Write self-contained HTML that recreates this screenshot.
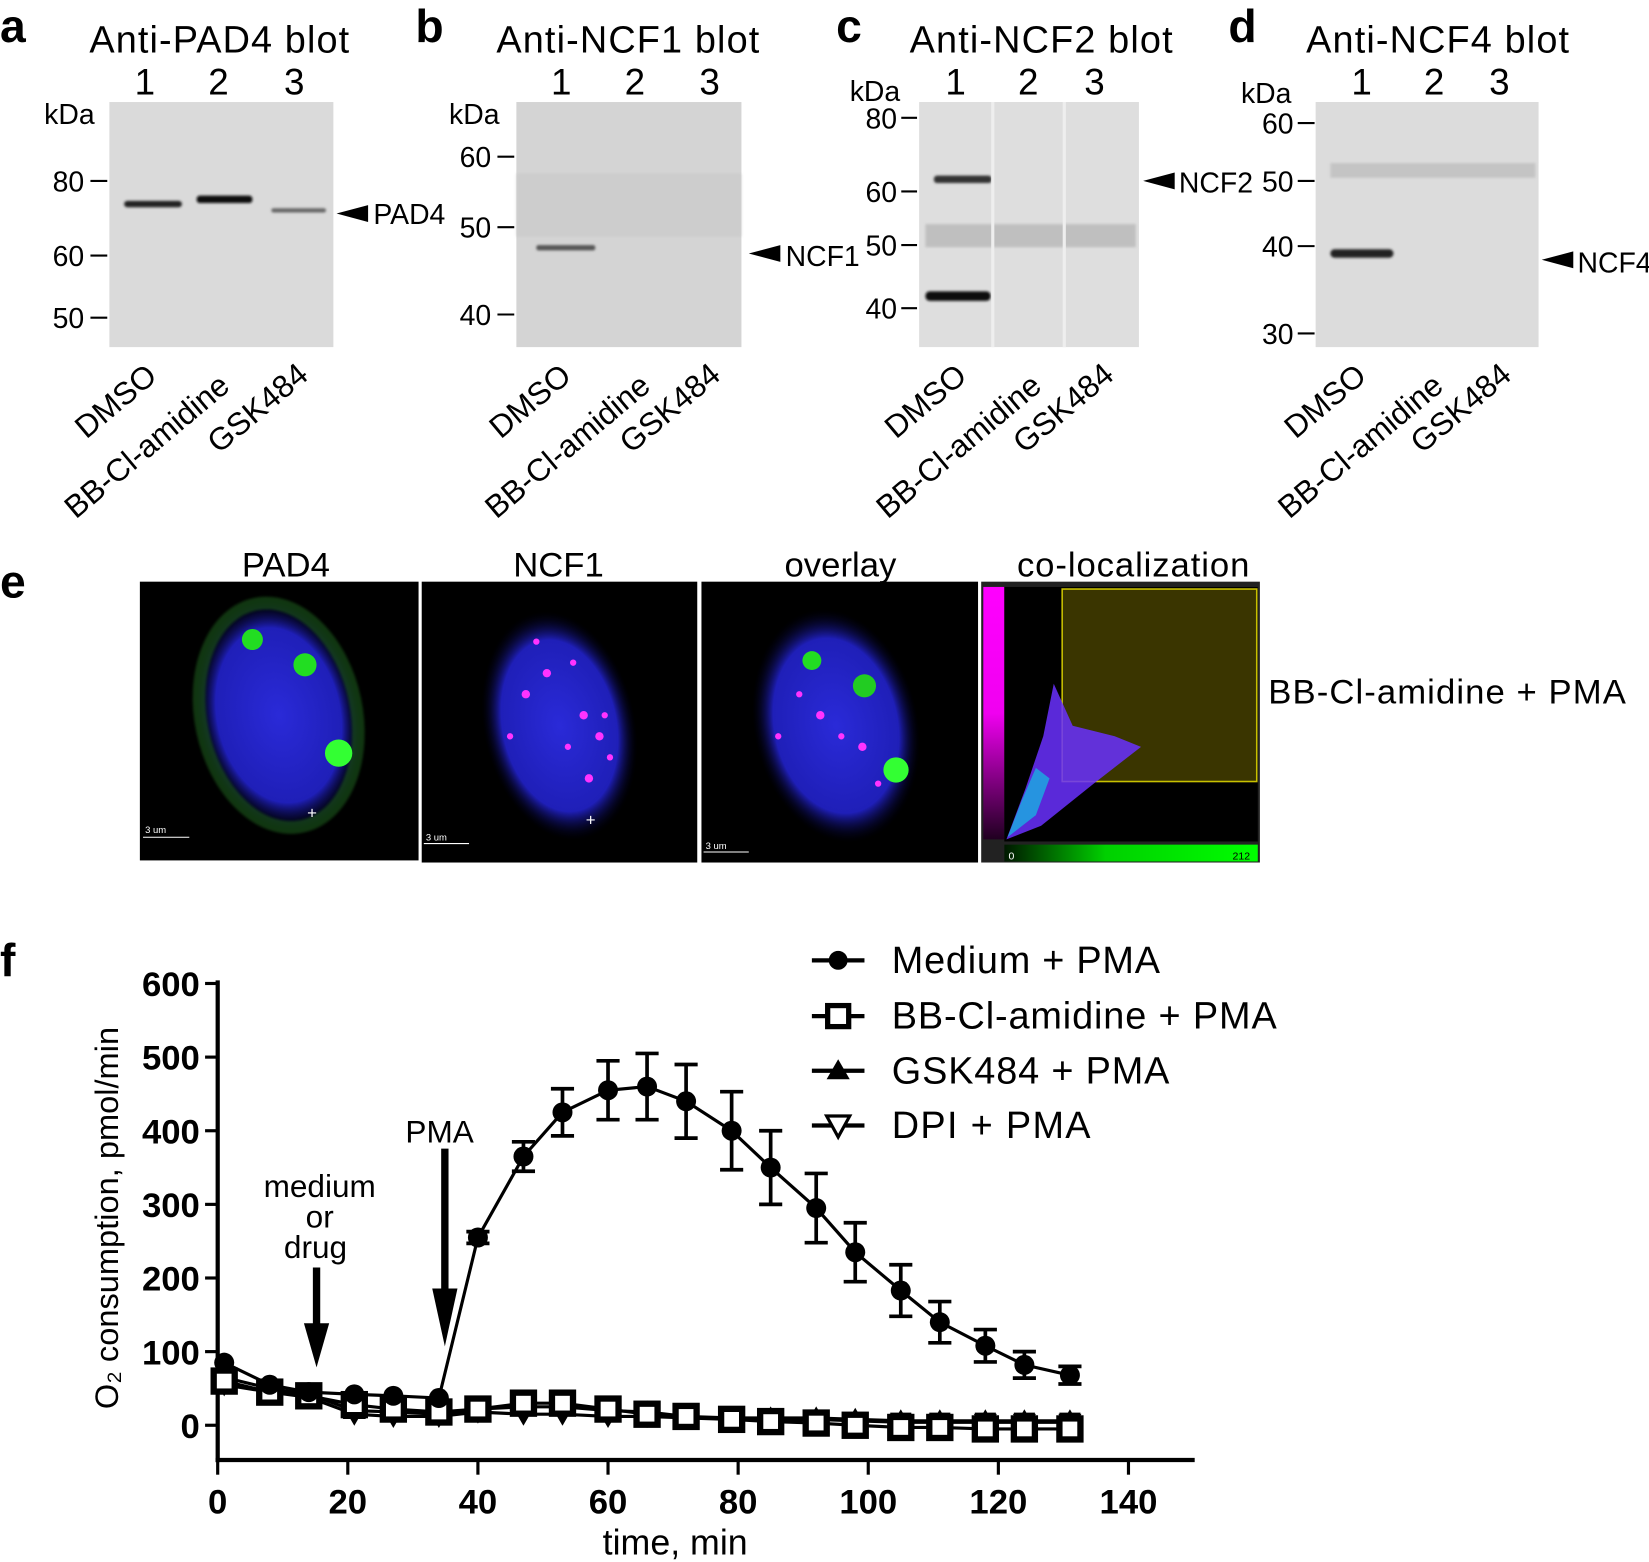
<!DOCTYPE html>
<html><head><meta charset="utf-8"><style>
html,body{margin:0;padding:0;background:#fff}
svg{display:block}
text{font-family:"Liberation Sans",Arial,sans-serif}
</style></head><body>
<svg id="s" width="1649" height="1562" viewBox="0 0 1568 1485" preserveAspectRatio="none" xmlns="http://www.w3.org/2000/svg">
<defs>
<radialGradient id="blue" cx="50%" cy="50%" r="50%"><stop offset="0" stop-color="#2a2ad8"/><stop offset="0.75" stop-color="#1f1fb8"/><stop offset="1" stop-color="#000020" stop-opacity="0"/></radialGradient>
<linearGradient id="mag" x1="0" y1="0" x2="0" y2="1"><stop offset="0" stop-color="#ff00ff"/><stop offset="0.5" stop-color="#f000f0"/><stop offset="1" stop-color="#200020"/></linearGradient>
<linearGradient id="grn" x1="0" y1="0" x2="1" y2="0"><stop offset="0" stop-color="#001800"/><stop offset="0.4" stop-color="#00d000"/><stop offset="1" stop-color="#00ff00"/></linearGradient>
<filter id="bl"><feGaussianBlur stdDeviation="1.2"/></filter>
</defs>
<g font-size="44" font-weight="bold">
<text x="0" y="40">a</text><text x="395" y="40">b</text><text x="795" y="40">c</text><text x="1168" y="40">d</text>
</g>
<g font-size="36" fill="#000">
<text x="85" y="50" textLength="247">Anti-PAD4 blot</text>
<text x="472" y="50" textLength="250">Anti-NCF1 blot</text>
<text x="865" y="50" textLength="250">Anti-NCF2 blot</text>
<text x="1242" y="50" textLength="250">Anti-NCF4 blot</text>
</g>
<g font-size="35">
<text x="128" y="90">1</text><text x="198" y="90">2</text><text x="270" y="90">3</text>
<text x="524" y="90">1</text><text x="594" y="90">2</text><text x="665" y="90">3</text>
<text x="899" y="90">1</text><text x="968" y="90">2</text><text x="1031" y="90">3</text>
<text x="1285" y="90">1</text><text x="1354" y="90">2</text><text x="1416" y="90">3</text>
</g>
<rect x="104" y="97" width="213" height="233" fill="#dadada"/>
<rect x="491" y="97" width="214" height="233" fill="#d4d4d4"/>
<rect x="874" y="97" width="209" height="233" fill="#dedede"/>
<rect x="1251" y="97" width="212" height="233" fill="#dcdcdc"/>
<g filter="url(#bl)">
<rect x="118" y="191" width="55" height="6" fill="#222" rx="3"/>
<rect x="187" y="186" width="53" height="7" fill="#111" rx="3"/>
<rect x="258" y="198" width="52" height="4" fill="#666" rx="2"/>
<rect x="491" y="165" width="214" height="60" fill="#c8c8c8" opacity="0.6"/>
<rect x="510" y="233" width="56" height="5" fill="#555" rx="2"/>
<rect x="888" y="167" width="55" height="7" fill="#333" rx="3"/>
<rect x="880" y="213" width="200" height="22" fill="#b8b8b8" opacity="0.8"/>
<rect x="880" y="277" width="62" height="9" fill="#111" rx="4"/>
<rect x="1265" y="155" width="195" height="14" fill="#c4c4c4"/>
<rect x="1265" y="237" width="60" height="8" fill="#222" rx="4"/>
</g>
<line x1="944" y1="97" x2="944" y2="330" stroke="#eee" stroke-width="3"/>
<line x1="1012" y1="97" x2="1012" y2="330" stroke="#eee" stroke-width="3"/>
<g font-size="27" fill="#000">
<text x="42" y="118">kDa</text>
<text x="50" y="182">80</text><line x1="86" y1="172" x2="102" y2="172" stroke="#000" stroke-width="2"/>
<text x="50" y="253">60</text><line x1="86" y1="243" x2="102" y2="243" stroke="#000" stroke-width="2"/>
<text x="50" y="312">50</text><line x1="86" y1="302" x2="102" y2="302" stroke="#000" stroke-width="2"/>
<text x="427" y="118">kDa</text>
<text x="437" y="159">60</text><line x1="473" y1="149" x2="489" y2="149" stroke="#000" stroke-width="2"/>
<text x="437" y="226">50</text><line x1="473" y1="216" x2="489" y2="216" stroke="#000" stroke-width="2"/>
<text x="437" y="309">40</text><line x1="473" y1="299" x2="489" y2="299" stroke="#000" stroke-width="2"/>
<text x="808" y="96">kDa</text>
<text x="823" y="122">80</text><line x1="857" y1="112" x2="872" y2="112" stroke="#000" stroke-width="2"/>
<text x="823" y="192">60</text><line x1="857" y1="182" x2="872" y2="182" stroke="#000" stroke-width="2"/>
<text x="823" y="243">50</text><line x1="857" y1="233" x2="872" y2="233" stroke="#000" stroke-width="2"/>
<text x="823" y="303">40</text><line x1="857" y1="293" x2="872" y2="293" stroke="#000" stroke-width="2"/>
<text x="1180" y="98">kDa</text>
<text x="1200" y="127">60</text><line x1="1234" y1="117" x2="1250" y2="117" stroke="#000" stroke-width="2"/>
<text x="1200" y="182">50</text><line x1="1234" y1="172" x2="1250" y2="172" stroke="#000" stroke-width="2"/>
<text x="1200" y="244">40</text><line x1="1234" y1="234" x2="1250" y2="234" stroke="#000" stroke-width="2"/>
<text x="1200" y="327">30</text><line x1="1234" y1="317" x2="1250" y2="317" stroke="#000" stroke-width="2"/>
</g>
<g font-size="27">
<polygon points="320,203 350,195 350,211" fill="#000"/><text x="355" y="213">PAD4</text>
<polygon points="712,241 742,233 742,249" fill="#000"/><text x="747" y="253">NCF1</text>
<polygon points="1087,172 1117,164 1117,180" fill="#000"/><text x="1121" y="183">NCF2</text>
<polygon points="1466,247 1496,239 1496,255" fill="#000"/><text x="1500" y="259">NCF4</text>
</g>
<g font-size="30">
<text transform="translate(82,418) rotate(-40)">DMSO</text>
<text transform="translate(72,494) rotate(-40)">BB-Cl-amidine</text>
<text transform="translate(208,432) rotate(-40)">GSK484</text>
<text transform="translate(476,418) rotate(-40)">DMSO</text>
<text transform="translate(472,494) rotate(-40)">BB-Cl-amidine</text>
<text transform="translate(600,432) rotate(-40)">GSK484</text>
<text transform="translate(852,418) rotate(-40)">DMSO</text>
<text transform="translate(844,494) rotate(-40)">BB-Cl-amidine</text>
<text transform="translate(974,432) rotate(-40)">GSK484</text>
<text transform="translate(1232,418) rotate(-40)">DMSO</text>
<text transform="translate(1226,494) rotate(-40)">BB-Cl-amidine</text>
<text transform="translate(1352,432) rotate(-40)">GSK484</text>
</g>
<text x="0" y="568" font-weight="bold" font-size="44">e</text>
<g font-size="33"><text x="230" y="548">PAD4</text><text x="488" y="548">NCF1</text><text x="746" y="548">overlay</text><text x="967" y="548" textLength="221">co-localization</text></g>
<rect x="133" y="553" width="265" height="265" fill="#000"/>
<rect x="401" y="553" width="262" height="267" fill="#000"/>
<rect x="667" y="553" width="263" height="267" fill="#000"/>
<rect x="933" y="553" width="265" height="267" fill="#222"/>
<ellipse cx="265" cy="680" rx="78" ry="112" fill="url(#blue)" transform="rotate(-12 265 680)"/>
<ellipse cx="265" cy="680" rx="74" ry="108" fill="none" stroke="#1a5a1a" stroke-width="12" opacity="0.6" transform="rotate(-12 265 680)" filter="url(#bl)"/>
<circle cx="240" cy="608" r="10" fill="#22dd22"/><circle cx="290" cy="632" r="11" fill="#22dd22"/><circle cx="322" cy="716" r="13" fill="#33ff33"/>
<ellipse cx="532" cy="690" rx="72" ry="110" fill="url(#blue)" transform="rotate(-12 532 690)"/>
<g fill="#ff33ff"><circle cx="500" cy="660" r="4"/><circle cx="520" cy="640" r="4"/><circle cx="545" cy="630" r="3"/><circle cx="555" cy="680" r="4"/><circle cx="570" cy="700" r="4"/><circle cx="580" cy="720" r="3"/><circle cx="485" cy="700" r="3"/><circle cx="560" cy="740" r="4"/><circle cx="540" cy="710" r="3"/><circle cx="575" cy="680" r="3"/><circle cx="510" cy="610" r="3"/></g>
<ellipse cx="795" cy="690" rx="78" ry="112" fill="url(#blue)" transform="rotate(-12 795 690)"/>
<circle cx="772" cy="628" r="9" fill="#22dd22"/><circle cx="822" cy="652" r="11" fill="#22cc22"/><circle cx="852" cy="732" r="12" fill="#33ff33"/>
<g fill="#ff33ff"><circle cx="760" cy="660" r="3"/><circle cx="780" cy="680" r="4"/><circle cx="800" cy="700" r="3"/><circle cx="820" cy="710" r="4"/><circle cx="740" cy="700" r="3"/><circle cx="835" cy="745" r="3"/></g>
<g fill="#fff" font-size="9"><text x="138" y="792">3 um</text><text x="405" y="799">3 um</text><text x="671" y="807">3 um</text></g>
<line x1="136" y1="796" x2="180" y2="796" stroke="#fff"/><line x1="403" y1="802" x2="446" y2="802" stroke="#fff"/><line x1="669" y1="810" x2="712" y2="810" stroke="#fff"/>
<text x="292" y="778" fill="#fff" font-size="16">+</text><text x="557" y="785" fill="#fff" font-size="16">+</text>
<rect x="935" y="558" width="20" height="240" fill="url(#mag)"/>
<rect x="955" y="558" width="241" height="242" fill="#000"/>
<rect x="1010" y="560" width="185" height="183" fill="#3a3500" stroke="#c8c000" stroke-width="1.5"/>
<polygon points="957,798 975,750 992,700 1002,650 1020,690 1060,700 1085,710 1040,745 990,785" fill="#6a30ff" opacity="0.85"/>
<polygon points="958,796 972,760 985,730 998,740 985,775" fill="#20a0e0" opacity="0.9"/>
<rect x="955" y="803" width="241" height="16" fill="url(#grn)"/>
<text x="959" y="817" fill="#fff" font-size="10">0</text><text x="1172" y="817" fill="#000" font-size="10">212</text>
<text x="1206" y="669" font-size="33" textLength="340">BB-Cl-amidine + PMA</text>
<text x="0" y="928" font-weight="bold" font-size="44">f</text>
<g id="plot"></g>
</svg>
<script>
const NS="http://www.w3.org/2000/svg",g=document.getElementById("plot");
function el(t,a,txt){const e=document.createElementNS(NS,t);for(const k in a)e.setAttribute(k,a[k]);if(txt!=null)e.textContent=txt;g.appendChild(e);return e;}
const X=t=>207+t*6.186,Y=v=>1355-v*0.7;
el("line",{x1:207,y1:932,x2:207,y2:1390,stroke:"#000","stroke-width":4});
el("line",{x1:205,y1:1388,x2:1136,y2:1388,stroke:"#000","stroke-width":4});
for(let v=0;v<=600;v+=100){el("line",{x1:195,y1:Y(v),x2:207,y2:Y(v),stroke:"#000","stroke-width":3});el("text",{x:190,y:Y(v)+12,"text-anchor":"end","font-size":33,"font-weight":"bold"},v);}
for(let t=0;t<=140;t+=20){el("line",{x1:X(t),y1:1388,x2:X(t),y2:1402,stroke:"#000","stroke-width":3});el("text",{x:X(t),y:1439,"text-anchor":"middle","font-size":33,"font-weight":"bold"},t);}
el("text",{x:642,y:1478,"text-anchor":"middle","font-size":34},"time, min");
el("text",{x:0,y:0,transform:"translate(112,1158) rotate(-90)","text-anchor":"middle","font-size":31},"O\u2082 consumption, pmol/min");
const T=[1,8,14,21,27,34,40,47,53,60,66,72,79,85,92,98,105,111,118,124,131];
const med=[85,55,45,42,40,37,255,365,425,455,460,440,400,350,295,235,183,140,108,82,68];
const me=[0,0,0,0,0,0,8,20,32,40,45,50,53,50,47,40,35,28,22,18,12];
const bb=[60,45,40,28,22,18,22,30,30,22,15,12,8,5,3,0,-3,-3,-5,-5,-5];
const gsk=[65,50,42,20,18,15,22,25,25,20,18,12,10,10,10,8,6,6,6,6,6];
const dpi=[55,45,38,15,12,12,18,15,15,12,12,10,8,8,8,6,4,4,4,4,4];
function series(d,err){let p=T.map((t,i)=>X(t)+","+Y(d[i])).join(" ");el("polyline",{points:p,fill:"none",stroke:"#000","stroke-width":3});
 if(err)T.forEach((t,i)=>{if(err[i]){el("line",{x1:X(t),y1:Y(d[i]-err[i]),x2:X(t),y2:Y(d[i]+err[i]),stroke:"#000","stroke-width":3.5});[d[i]-err[i],d[i]+err[i]].forEach(v=>el("line",{x1:X(t)-11,y1:Y(v),x2:X(t)+11,y2:Y(v),stroke:"#000","stroke-width":3.5}));}});}
series(dpi);series(gsk);series(bb);
T.forEach((t,i)=>{if(i>12){el("line",{x1:X(t)-10,y1:Y(15),x2:X(t)+10,y2:Y(15),stroke:"#000","stroke-width":3});el("line",{x1:X(t),y1:Y(15),x2:X(t),y2:Y(-12),stroke:"#000","stroke-width":3});}});
T.forEach((t,i)=>{el("polygon",{points:`${X(t)-11},${Y(dpi[i])-8} ${X(t)+11},${Y(dpi[i])-8} ${X(t)},${Y(dpi[i])+11}`});
 el("polygon",{points:`${X(t)-11},${Y(gsk[i])+8} ${X(t)+11},${Y(gsk[i])+8} ${X(t)},${Y(gsk[i])-11}`});
 el("rect",{x:X(t)-10,y:Y(bb[i])-10,width:20,height:20,fill:"#fff",stroke:"#000","stroke-width":6});});
series(med,me);
T.forEach((t,i)=>el("circle",{cx:X(t),cy:Y(med[i]),r:9.5}));
el("line",{x1:301,y1:1205,x2:301,y2:1265,stroke:"#000","stroke-width":7});el("polygon",{points:"289,1258 313,1258 301,1300"});
el("line",{x1:423,y1:1092,x2:423,y2:1230,stroke:"#000","stroke-width":7});el("polygon",{points:"411,1225 435,1225 423,1280"});
el("text",{x:304,y:1138,"text-anchor":"middle","font-size":30},"medium");
el("text",{x:304,y:1167,"text-anchor":"middle","font-size":30},"or");
el("text",{x:300,y:1196,"text-anchor":"middle","font-size":30},"drug");
el("text",{x:418,y:1086,"text-anchor":"middle","font-size":30},"PMA");
const L=[["Medium + PMA",913,"c",255],["BB-Cl-amidine + PMA",966,"s",366],["GSK484 + PMA",1018,"u",264],["DPI + PMA",1070,"d",189]];
L.forEach(([s,y,m,w])=>{el("line",{x1:772,y1:y,x2:822,y2:y,stroke:"#000","stroke-width":4});
 if(m=="c")el("circle",{cx:797,cy:y,r:9});
 if(m=="s")el("rect",{x:787,y:y-10,width:20,height:20,fill:"#fff",stroke:"#000","stroke-width":5});
 if(m=="u")el("polygon",{points:`786,${y+8} 808,${y+8} 797,${y-11}`});
 if(m=="d")el("polygon",{points:`786,${y-9} 808,${y-9} 797,${y+11}`,fill:"#fff",stroke:"#000","stroke-width":3});
 el("text",{x:848,y:y+12,"font-size":36,textLength:w},s);});
</script>
</body></html>
